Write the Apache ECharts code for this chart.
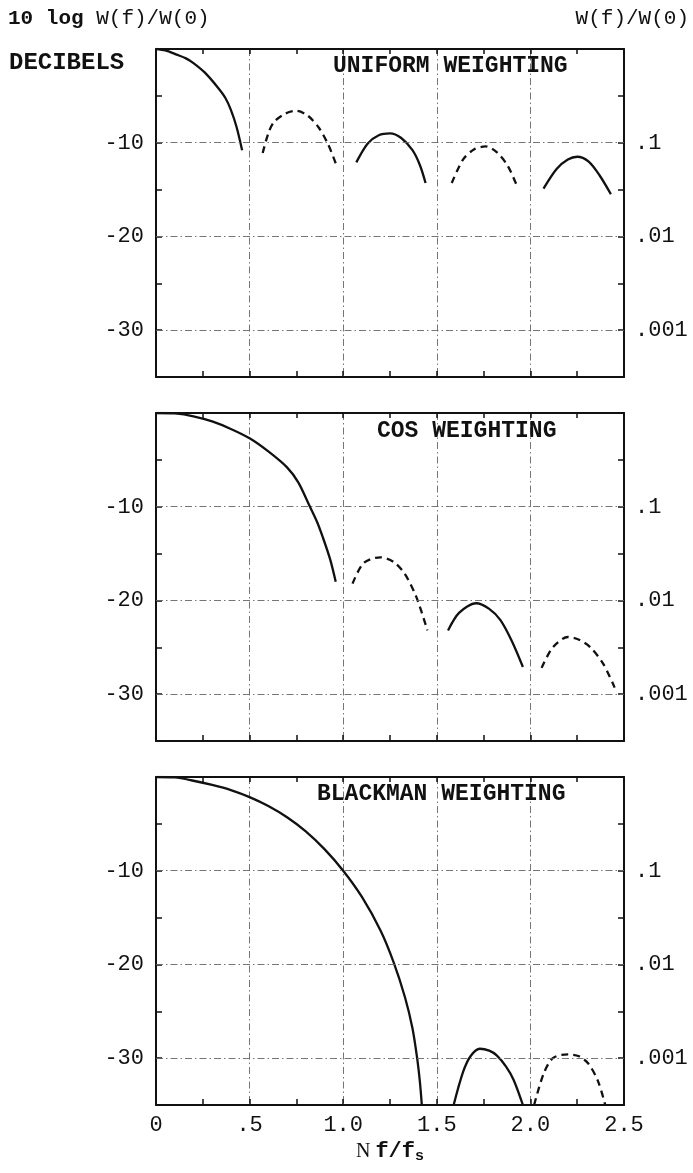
<!DOCTYPE html>
<html><head><meta charset="utf-8">
<script src="https://cdn.jsdelivr.net/npm/echarts@6/dist/echarts.min.js"></script>
<style>html,body{margin:0;padding:0;background:#fff}#c{width:693px;height:1173px}</style>
</head><body><div id="c"></div>
<script>
// ---- tick labels ----
const xTickValues = [0, 0.5, 1.0, 1.5, 2.0, 2.5];
const xTickLabels = ['0', '.5', '1.0', '1.5', '2.0', '2.5'];
const dbTickValues = [-10, -20, -30];
const dbTickLabels = ['-10', '-20', '-30'];
const ratioTickLabels = ['.1', '.01', '.001'];
const panelTitles = ['UNIFORM WEIGHTING', 'COS WEIGHTING', 'BLACKMAN WEIGHTING'];

// ---- uniform weighting (x = N f/fs, y = dB) ----
const uniformMain  = [[0,0],[0.05,-0.15],[0.11,-0.6],[0.16,-1.0],[0.20,-1.5],[0.26,-2.5],[0.33,-4.1],[0.37,-5.2],[0.40,-6.5],[0.43,-8.3],[0.46,-10.8]];
const uniformSide1 = [[0.57,-11.1],[0.60,-9.0],[0.63,-7.8],[0.69,-6.9],[0.75,-6.6],[0.81,-7.1],[0.87,-8.4],[0.92,-10.2],[0.96,-12.2]];
const uniformSide2 = [[1.07,-12.1],[1.13,-10.1],[1.19,-9.2],[1.25,-9.0],[1.31,-9.5],[1.37,-10.8],[1.41,-12.4],[1.44,-14.3]];
const uniformSide3 = [[1.58,-14.3],[1.64,-11.8],[1.70,-10.7],[1.76,-10.4],[1.82,-11.0],[1.88,-12.5],[1.93,-14.7]];
const uniformSide4 = [[2.07,-14.9],[2.14,-12.8],[2.20,-11.8],[2.25,-11.5],[2.31,-12.0],[2.37,-13.5],[2.43,-15.5]];

// ---- cos weighting ----
const cosMain  = [[0,0],[0.1,-0.05],[0.2,-0.35],[0.3,-0.9],[0.4,-1.7],[0.5,-2.7],[0.6,-4.1],[0.7,-5.8],[0.76,-7.4],[0.82,-9.9],[0.86,-11.6],[0.89,-13.2],[0.93,-15.6],[0.96,-18.0]];
const cosSide1 = [[1.05,-18.2],[1.11,-16.0],[1.20,-15.4],[1.27,-15.9],[1.33,-17.2],[1.39,-19.6],[1.45,-23.2]];
const cosSide2 = [[1.56,-23.2],[1.62,-21.3],[1.71,-20.3],[1.78,-20.9],[1.84,-22.1],[1.90,-24.3],[1.96,-27.1]];
const cosSide3 = [[2.06,-27.2],[2.12,-25.0],[2.20,-23.9],[2.26,-24.2],[2.32,-25.0],[2.39,-26.8],[2.45,-29.3]];

// ---- blackman weighting ----
const blackMain  = [[0,0],[0.1,-0.05],[0.2,-0.4],[0.3,-0.85],[0.4,-1.4],[0.5,-2.15],[0.6,-3.1],[0.7,-4.3],[0.8,-5.8],[0.9,-7.7],[1.0,-10.0],[1.1,-12.8],[1.2,-16.4],[1.27,-19.8],[1.33,-23.5],[1.37,-26.8],[1.395,-30.0],[1.41,-32.6],[1.42,-35]];
const blackSide1 = [[1.59,-35],[1.64,-31.5],[1.68,-29.8],[1.73,-29.0],[1.78,-29.2],[1.82,-29.7],[1.87,-30.9],[1.91,-32.3],[1.96,-35]];
const blackSide2 = [[2.02,-35],[2.07,-31.7],[2.12,-30.0],[2.20,-29.6],[2.26,-29.8],[2.31,-30.6],[2.36,-32.4],[2.40,-35]];

const panels = [
  { top: 49,  curves: [[uniformMain,'solid'],[uniformSide1,'dashed'],[uniformSide2,'solid'],[uniformSide3,'dashed'],[uniformSide4,'solid']], titleLeft: 333, titleTop: 55 },
  { top: 413, curves: [[cosMain,'solid'],[cosSide1,'dashed'],[cosSide2,'solid'],[cosSide3,'dashed']], titleLeft: 377, titleTop: 420 },
  { top: 777, curves: [[blackMain,'solid'],[blackSide1,'solid'],[blackSide2,'dashed']], titleLeft: 317, titleTop: 783 }
];

const FONT = "'Liberation Mono', 'DejaVu Sans Mono', monospace";
const INK = '#111';
const gridLineStyle = { color: '#666', width: 0.9, type: [7, 3, 1.5, 3] };

const grids = [], xAxes = [], yAxes = [], series = [], titles = [];

titles.push({ text: '{a|10 log} W(f)/W(0)', left: 8, top: 8, padding: 0,
  textStyle: { fontFamily: FONT, fontSize: 21, fontWeight: 'normal', color: INK,
    rich: { a: { fontFamily: FONT, fontSize: 21, fontWeight: 'bold', color: INK } } } });
titles.push({ text: 'W(f)/W(0)', right: 4, top: 8, padding: 0,
  textStyle: { fontFamily: FONT, fontSize: 21, fontWeight: 'normal', color: INK } });
titles.push({ text: 'DECIBELS', left: 9, top: 51, padding: 0,
  textStyle: { fontFamily: FONT, fontSize: 24, fontWeight: 'bold', color: INK } });

panels.forEach((p, i) => {
  const last = i === panels.length - 1;
  grids.push({ left: 156, right: 69, top: p.top, height: 328 });
  titles.push({ text: panelTitles[i], left: p.titleLeft, top: p.titleTop, padding: 0,
    textStyle: { fontFamily: FONT, fontSize: 23, fontWeight: 'bold', color: INK } });
  const axisLine = { show: true, onZero: false, lineStyle: { color: INK, width: 2 } };
  const tickStyle = { color: INK, width: 1.5 };
  xAxes.push({
    gridIndex: i, type: 'value', min: 0, max: 2.5, interval: 0.5, position: 'bottom',
    axisLine, axisTick: { show: true, inside: true, length: 6, lineStyle: tickStyle },
    minorTick: { show: true, splitNumber: 2, length: 6, lineStyle: tickStyle },
    splitLine: { show: true, lineStyle: gridLineStyle },
    axisLabel: { show: last, margin: 9, fontFamily: FONT, fontSize: 22, color: INK,
      formatter: v => { const k = xTickValues.findIndex(t => Math.abs(t - v) < 1e-6); return k >= 0 ? xTickLabels[k] : ''; } },
    name: last ? '{n|N }{f|f/f}{s|s}' : '', nameLocation: 'middle', nameGap: 34,
    nameTextStyle: { rich: {
      n: { fontFamily: "'Liberation Serif', serif", fontSize: 20, color: INK },
      f: { fontFamily: FONT, fontSize: 22, fontWeight: 'bold', color: INK },
      s: { fontFamily: FONT, fontSize: 15, fontWeight: 'bold', color: INK, padding: [10, 0, 0, 0] } } }
  });
  xAxes.push({
    gridIndex: i, type: 'value', min: 0, max: 2.5, interval: 0.5, position: 'top',
    axisLine, axisTick: { show: true, inside: true, length: 5, lineStyle: tickStyle },
    minorTick: { show: true, splitNumber: 2, length: 5, lineStyle: tickStyle },
    splitLine: { show: false }, axisLabel: { show: false }
  });
  const yCommon = { gridIndex: i, type: 'value', min: -35, max: 0, interval: 5, axisLine,
    axisTick: { show: true, inside: true, length: 6, lineStyle: tickStyle },
    splitLine: { show: false } };
  yAxes.push(Object.assign({}, yCommon, { position: 'left',
    axisLabel: { margin: 12, fontFamily: FONT, fontSize: 22, color: INK,
      formatter: v => { const k = dbTickValues.indexOf(v); return k >= 0 ? dbTickLabels[k] : ''; } } }));
  yAxes.push(Object.assign({}, yCommon, { position: 'right',
    axisLabel: { margin: 11, fontFamily: FONT, fontSize: 22, color: INK,
      formatter: v => { const k = dbTickValues.indexOf(v); return k >= 0 ? ratioTickLabels[k] : ''; } } }));

  p.curves.forEach(([data, style], j) => {
    const s = {
      type: 'line', xAxisIndex: 2 * i, yAxisIndex: 2 * i, data, showSymbol: false,
      smooth: 0.3, silent: true, clip: true,
      lineStyle: { color: INK, width: 2.3, type: style === 'dashed' ? [7, 5] : 'solid' }
    };
    if (j === 0) {
      s.markLine = { silent: true, symbol: 'none', label: { show: false },
        lineStyle: gridLineStyle, data: dbTickValues.map(v => ({ yAxis: v })) };
    }
    series.push(s);
  });
});

const chart = echarts.init(document.getElementById('c'), null, { renderer: 'canvas' });
chart.setOption({
  animation: false, backgroundColor: '#fff',
  title: titles, grid: grids, xAxis: xAxes, yAxis: yAxes, series
});
</script></body></html>
